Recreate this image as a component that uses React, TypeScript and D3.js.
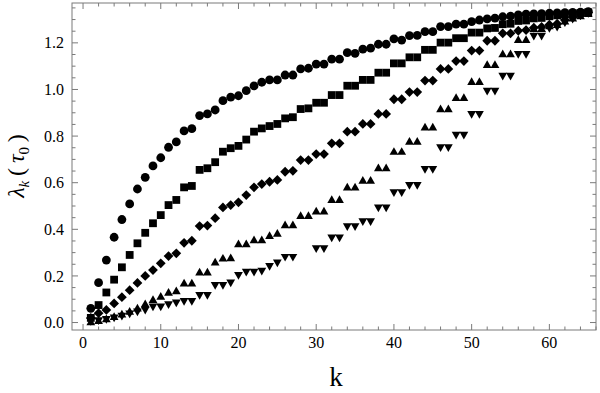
import React from 'react';
import * as d3 from 'd3';

// eigenvalues lambda_k(tau0), k = 1..65, one array per marker series
const circles = [
  0.061, 0.171, 0.268, 0.366, 0.442, 0.509, 0.573, 0.623, 0.672, 0.707,
  0.752, 0.775, 0.822, 0.832, 0.888, 0.895, 0.912, 0.952, 0.967, 0.973,
  0.995, 1.015, 1.031, 1.041, 1.041, 1.062, 1.062, 1.088, 1.091, 1.109,
  1.109, 1.130, 1.130, 1.158, 1.155, 1.173, 1.177, 1.194, 1.194, 1.217,
  1.212, 1.231, 1.232, 1.248, 1.248, 1.270, 1.270, 1.280, 1.280, 1.291,
  1.298, 1.303, 1.306, 1.312, 1.315, 1.320, 1.323, 1.324, 1.325, 1.327,
  1.329, 1.330, 1.331, 1.332, 1.334,
];

const squares = [
  0.020, 0.075, 0.129, 0.184, 0.237, 0.290, 0.340, 0.385, 0.426, 0.461,
  0.504, 0.526, 0.580, 0.586, 0.655, 0.662, 0.688, 0.733, 0.748, 0.758,
  0.785, 0.819, 0.833, 0.843, 0.852, 0.876, 0.881, 0.916, 0.919, 0.943,
  0.943, 0.976, 0.976, 1.016, 1.016, 1.041, 1.041, 1.072, 1.072, 1.112,
  1.112, 1.138, 1.138, 1.170, 1.170, 1.201, 1.201, 1.220, 1.220, 1.244,
  1.244, 1.262, 1.264, 1.280, 1.282, 1.294, 1.296, 1.305, 1.307, 1.314,
  1.318, 1.322, 1.325, 1.328, 1.331,
];

const diamonds = [
  0.020, 0.040, 0.054, 0.082, 0.109, 0.139, 0.170, 0.200, 0.225, 0.254,
  0.285, 0.297, 0.342, 0.351, 0.414, 0.416, 0.448, 0.494, 0.504, 0.516,
  0.547, 0.580, 0.594, 0.604, 0.612, 0.647, 0.651, 0.697, 0.697, 0.723,
  0.723, 0.769, 0.769, 0.819, 0.819, 0.852, 0.852, 0.895, 0.895, 0.958,
  0.958, 0.989, 0.989, 1.038, 1.038, 1.088, 1.088, 1.122, 1.122, 1.167,
  1.167, 1.209, 1.209, 1.241, 1.241, 1.252, 1.255, 1.265, 1.268, 1.278,
  1.282, 1.298, 1.310, 1.320, 1.330,
];

const upTriangles = [
  0.005, 0.010, 0.018, 0.028, 0.038, 0.050, 0.064, 0.082, 0.100, 0.114,
  0.132, 0.138, 0.171, 0.171, 0.218, 0.218, 0.261, 0.278, 0.280, 0.340,
  0.340, 0.357, 0.357, 0.375, 0.385, 0.421, 0.421, 0.461, 0.461, 0.480,
  0.480, 0.529, 0.529, 0.583, 0.583, 0.612, 0.612, 0.666, 0.666, 0.736,
  0.736, 0.779, 0.779, 0.841, 0.841, 0.919, 0.919, 0.967, 0.967, 1.036,
  1.036, 1.109, 1.109, 1.155, 1.155, 1.216, 1.216, 1.263, 1.263, 1.275,
  1.280, 1.295, 1.308, 1.318, 1.328,
];

// k = 28, 29 are not drawn in the original
const downTriangles = [
  0.003, 0.006, 0.011, 0.018, 0.025, 0.035, 0.044, 0.051, 0.065, 0.065,
  0.075, 0.082, 0.089, 0.089, 0.114, 0.114, 0.157, 0.157, 0.168, 0.200,
  0.214, 0.214, 0.218, 0.239, 0.254, 0.278, 0.278, null, null, 0.315,
  0.315, 0.361, 0.361, 0.409, 0.409, 0.431, 0.431, 0.490, 0.490, 0.555,
  0.555, 0.586, 0.586, 0.655, 0.655, 0.748, 0.748, 0.802, 0.802, 0.891,
  0.891, 0.991, 0.991, 1.055, 1.055, 1.148, 1.148, 1.227, 1.227, 1.260,
  1.265, 1.285, 1.300, 1.315, 1.325,
];

const xTicks = [0, 10, 20, 30, 40, 50, 60];
const yTicks = [0, 0.2, 0.4, 0.6, 0.8, 1.0, 1.2];

const W = 600;
const H = 393;
const left = 72;
const right = 596;
const top = 3;
const bottom = 330;

const x = d3.scaleLinear().domain([-1.42, 66.0]).range([left, right]);
const y = d3.scaleLinear().domain([-0.032, 1.371]).range([bottom, top]);

// marker shapes, size = full width in px
const squareType = {
  draw(ctx: any, s: number) {
    const h = s / 2;
    ctx.rect(-h, -h, s, s);
  },
};
const diamondType = {
  draw(ctx: any, s: number) {
    const h = s / 2;
    ctx.moveTo(0, -h);
    ctx.lineTo(h, 0);
    ctx.lineTo(0, h);
    ctx.lineTo(-h, 0);
    ctx.closePath();
  },
};
const triUpType = {
  draw(ctx: any, s: number) {
    const h = s / 2;
    const t = s * 0.44;
    ctx.moveTo(0, -t);
    ctx.lineTo(h, t);
    ctx.lineTo(-h, t);
    ctx.closePath();
  },
};
const triDownType = {
  draw(ctx: any, s: number) {
    const h = s / 2;
    const t = s * 0.44;
    ctx.moveTo(0, t);
    ctx.lineTo(h, -t);
    ctx.lineTo(-h, -t);
    ctx.closePath();
  },
};
const circleType = {
  draw(ctx: any, s: number) {
    const r = s / 2;
    ctx.moveTo(r, 0);
    ctx.arc(0, 0, r, 0, 2 * Math.PI);
  },
};

const series = [
  { values: downTriangles, type: triDownType, size: 8.8 },
  { values: upTriangles, type: triUpType, size: 8.8 },
  { values: diamonds, type: diamondType, size: 9.8 },
  { values: squares, type: squareType, size: 7.8 },
  { values: circles, type: circleType, size: 8.8 },
];

const frameColor = '#7a7a7a';
const font = '"Liberation Serif", "Times New Roman", serif';

const App = () => {
  const xMinor = d3.range(0, 67, 2).filter((v) => v % 10 !== 0);
  const yMinor = d3.range(0, 28).map((i) => i * 0.05).filter((_, i) => i % 4 !== 0);

  return (
    <div style={{ position: 'absolute', left: 0, top: 0 }}>
      <svg width={W} height={H} style={{ display: 'block', background: '#fff' }}>
        {/* markers */}
        {series.map((s, si) => {
          const sym = d3.symbol().type(s.type as any).size(s.size);
          return (
            <g key={si} fill="#000">
              {s.values.map((v, i) =>
                v == null ? null : (
                  <path
                    key={i}
                    d={sym() as string}
                    transform={`translate(${x(i + 1)},${y(v)})`}
                  />
                )
              )}
            </g>
          );
        })}

        {/* frame */}
        <rect
          x={left}
          y={top}
          width={right - left}
          height={bottom - top}
          fill="none"
          stroke={frameColor}
          strokeWidth={1}
        />

        {/* ticks on all four sides */}
        <g stroke={frameColor} strokeWidth={1}>
          {xTicks.map((t) => (
            <g key={'xt' + t}>
              <line x1={x(t)} x2={x(t)} y1={bottom} y2={bottom - 6} />
              <line x1={x(t)} x2={x(t)} y1={top} y2={top + 6} />
            </g>
          ))}
          {xMinor.map((t) => (
            <g key={'xm' + t}>
              <line x1={x(t)} x2={x(t)} y1={bottom} y2={bottom - 3.5} />
              <line x1={x(t)} x2={x(t)} y1={top} y2={top + 3.5} />
            </g>
          ))}
          {yTicks.map((t) => (
            <g key={'yt' + t}>
              <line x1={left} x2={left + 6} y1={y(t)} y2={y(t)} />
              <line x1={right} x2={right - 6} y1={y(t)} y2={y(t)} />
            </g>
          ))}
          {yMinor.map((t) => (
            <g key={'ym' + t}>
              <line x1={left} x2={left + 3.5} y1={y(t)} y2={y(t)} />
              <line x1={right} x2={right - 3.5} y1={y(t)} y2={y(t)} />
            </g>
          ))}
        </g>

        {/* tick labels */}
        <g fontFamily={font} fontSize={16} fill="#000">
          {xTicks.map((t) => (
            <text key={'xl' + t} x={x(t)} y={348} textAnchor="middle">
              {t}
            </text>
          ))}
          {yTicks.map((t) => (
            <text key={'yl' + t} x={64} y={y(t)} dy="0.35em" textAnchor="end">
              {d3.format('.1f')(t)}
            </text>
          ))}
        </g>

        {/* axis labels */}
        <text x={336} y={386} textAnchor="middle" fontFamily={font} fontSize={27}>
          k
        </text>
        <text
          transform="translate(24,166) rotate(-90)"
          textAnchor="middle"
          fontFamily={font}
          fontSize={24}
        >
          <tspan fontStyle="italic">λ</tspan>
          <tspan fontStyle="italic" fontSize={15} dy={5}>k</tspan>
          <tspan dy={-5}>{'\u2009(\u2009'}</tspan>
          <tspan fontStyle="italic">τ</tspan>
          <tspan fontSize={15} dy={5}>0</tspan>
          <tspan dy={-5}>{'\u2009)'}</tspan>
        </text>
      </svg>
    </div>
  );
};

export default App;
